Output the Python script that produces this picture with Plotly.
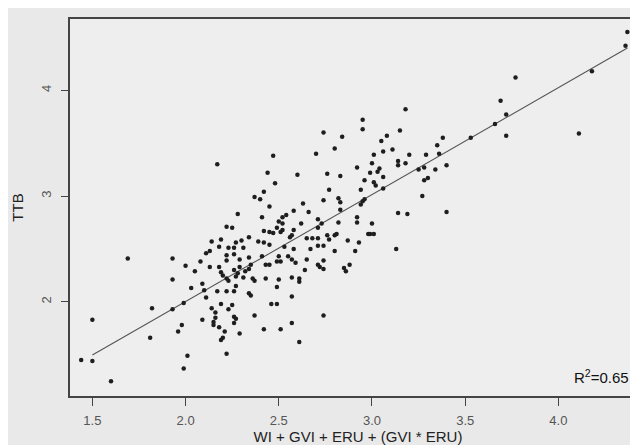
import plotly.graph_objects as go

# Predictor (x) values
x_vals = [
    2.17, 2.37, 3.18, 2.95, 2.95, 2.74, 2.84, 3.08, 3.05, 3.15, 3.38, 3.35, 2.80, 3.06, 3.11, 3.01,
    2.70, 3.20, 3.36, 3.29, 2.47, 3.14, 3.14, 3.18, 3.00, 2.92, 3.04, 3.03, 2.99, 3.06, 3.40, 3.34,
    3.28, 3.25, 2.44, 2.60, 2.76, 2.83, 2.96, 2.48, 3.01, 3.02, 3.30, 3.28, 2.42, 2.77, 2.94, 3.06,
    3.27, 2.40, 2.74, 2.82, 2.83, 2.63, 2.95, 2.96, 2.94, 2.45,
    4.37, 4.36, 3.77, 4.18, 3.69, 3.72, 3.72, 4.11, 3.66, 3.53,
    2.28, 2.41, 2.22, 2.25, 2.42, 2.14, 2.19, 2.34, 2.30, 2.39, 2.42, 2.27, 2.18, 2.23, 2.26, 2.31,
    2.11, 2.13, 2.26, 2.22, 2.34, 2.41, 1.69, 1.93, 2.08, 2.29, 2.22, 2.00, 2.13, 2.18, 2.35, 2.34,
    2.32, 2.29, 2.26, 2.05, 2.19, 2.20, 2.28, 2.27, 2.22, 2.23, 2.31, 2.36, 2.37, 2.43, 1.93, 2.09,
    2.03, 2.10, 2.17, 2.22, 2.26, 2.34, 2.35, 2.27, 2.11, 1.99, 2.19, 2.25, 1.82, 1.93, 2.14, 2.23,
    2.16, 2.16, 2.26, 2.27, 2.37, 1.50, 2.09, 2.15, 2.15, 2.26, 1.98, 2.18, 1.96, 2.21, 2.29, 2.42,
    1.81, 2.20, 2.19, 2.01, 2.22, 1.50, 1.44, 1.99, 1.60,
    2.58, 2.66, 2.83, 3.14, 3.19, 3.40, 2.54, 2.52, 2.52, 2.50, 2.52, 2.51, 2.49, 2.45, 2.47, 2.58,
    2.62, 2.71, 2.73, 2.71, 2.82, 2.92, 2.92, 3.00, 2.98, 2.99, 3.01, 2.93, 2.87, 2.80, 2.81, 2.76,
    2.77, 2.71, 2.65, 2.68, 2.56, 2.57, 2.45, 2.53, 2.58, 2.67, 2.71, 2.74, 2.80, 2.91, 3.13, 2.50,
    2.55, 2.49, 2.51, 2.43, 2.45, 2.57, 2.59, 2.65, 2.71, 2.72, 2.74, 2.74, 2.64, 2.85, 2.86, 2.88,
    2.50, 2.49, 2.57, 2.61, 2.61, 2.57, 2.46, 2.49, 2.74, 2.57, 2.51, 2.61,
]

# TTB (y) values
y_vals = [
    3.30, 2.99, 3.82, 3.72, 3.63, 3.60, 3.56, 3.57, 3.52, 3.62, 3.55, 3.48, 3.45, 3.42, 3.44, 3.39,
    3.40, 3.39, 3.40, 3.39, 3.38, 3.33, 3.29, 3.31, 3.31, 3.27, 3.26, 3.23, 3.22, 3.18, 3.29, 3.25,
    3.27, 3.25, 3.22, 3.20, 3.21, 3.19, 3.15, 3.12, 3.13, 3.10, 3.17, 3.15, 3.04, 3.06, 3.06, 3.07,
    3.00, 2.97, 2.96, 2.98, 2.94, 2.93, 2.95, 2.97, 2.92, 2.90,
    4.55, 4.42, 4.12, 4.18, 3.90, 3.77, 3.57, 3.59, 3.68, 3.55,
    2.83, 2.80, 2.71, 2.70, 2.67, 2.57, 2.59, 2.61, 2.58, 2.57, 2.56, 2.56, 2.52, 2.51, 2.51, 2.51,
    2.46, 2.48, 2.45, 2.44, 2.42, 2.43, 2.41, 2.41, 2.38, 2.40, 2.39, 2.34, 2.33, 2.33, 2.35, 2.31,
    2.29, 2.33, 2.30, 2.29, 2.28, 2.25, 2.27, 2.24, 2.22, 2.20, 2.23, 2.22, 2.20, 2.22, 2.21, 2.17,
    2.13, 2.11, 2.10, 2.10, 2.10, 2.08, 2.06, 2.15, 2.04, 1.99, 1.98, 1.97, 1.94, 1.93, 1.94, 1.93,
    1.90, 1.85, 1.86, 1.84, 1.87, 1.83, 1.83, 1.81, 1.78, 1.80, 1.78, 1.76, 1.72, 1.72, 1.70, 1.74,
    1.66, 1.66, 1.64, 1.49, 1.51, 1.44, 1.45, 1.37, 1.25,
    2.86, 2.85, 2.87, 2.84, 2.83, 2.85, 2.82, 2.80, 2.74, 2.76, 2.68, 2.66, 2.70, 2.66, 2.65, 2.68,
    2.74, 2.78, 2.74, 2.70, 2.75, 2.80, 2.75, 2.74, 2.64, 2.64, 2.64, 2.56, 2.58, 2.63, 2.64, 2.63,
    2.59, 2.60, 2.60, 2.60, 2.61, 2.63, 2.54, 2.52, 2.50, 2.50, 2.53, 2.53, 2.48, 2.48, 2.50, 2.43,
    2.43, 2.38, 2.38, 2.35, 2.35, 2.40, 2.37, 2.40, 2.35, 2.33, 2.39, 2.31, 2.30, 2.32, 2.29, 2.35,
    2.21, 2.14, 2.23, 2.22, 2.19, 2.05, 1.98, 1.98, 1.87, 1.80, 1.74, 1.62,
]

# Fitted regression line
fit_intercept = -0.02
fit_slope = 1.011
fit_x = [1.5, 4.37]
fit_y = [fit_intercept + fit_slope * v for v in fit_x]

x_ticks = [1.5, 2.0, 2.5, 3.0, 3.5, 4.0]
x_tick_text = ["1.5", "2.0", "2.5", "3.0", "3.5", "4.0"]
y_ticks = [2, 3, 4]
y_tick_text = ["2", "3", "4"]

fig = go.Figure()
fig.add_trace(go.Scatter(
    x=fit_x, y=fit_y, mode="lines",
    line=dict(color="#555555", width=1.1), hoverinfo="skip", showlegend=False,
))
fig.add_trace(go.Scatter(
    x=x_vals, y=y_vals, mode="markers",
    marker=dict(color="#1e1e1e", size=4.5, line=dict(width=0)),
    showlegend=False,
))

fig.add_annotation(
    text="R<sup>2</sup>=0.65", xref="paper", yref="paper",
    x=0.974, y=0.053, xanchor="right", yanchor="middle", showarrow=False,
    font=dict(family="Liberation Sans, Arial, sans-serif", size=15, color="#111111"),
)

axis_font = dict(family="Liberation Sans, Arial, sans-serif", size=13, color="#555555")
title_font = dict(family="Liberation Sans, Arial, sans-serif", size=15, color="#222222")

fig.update_layout(
    width=638, height=445,
    margin=dict(l=62, r=0, t=11, b=57),
    paper_bgcolor="#e9e9e9", plot_bgcolor="#eeeeee",
    xaxis=dict(
        range=[1.380, 4.470], tickvals=x_ticks, ticktext=x_tick_text,
        showgrid=False, zeroline=False, showline=True, mirror=True,
        linecolor="#444444", linewidth=1.5, ticks="outside", ticklen=8,
        tickcolor="#444444", tickwidth=1.1, tickfont=axis_font,
        ticklabelstandoff=4,
        title=dict(text="WI + GVI + ERU + (GVI * ERU)", font=title_font, standoff=2),
    ),
    yaxis=dict(
        range=[1.110, 4.673], tickvals=y_ticks, ticktext=y_tick_text,
        showgrid=False, zeroline=False, showline=True, mirror=False,
        linecolor="#444444", linewidth=1.5, ticks="outside", ticklen=7,
        tickcolor="#444444", tickwidth=1.1, tickfont=axis_font, tickangle=-90,
        ticklabelstandoff=5,
        title=dict(text="TTB", font=title_font, standoff=12),
    ),
)

fig.write_html("out.html")
